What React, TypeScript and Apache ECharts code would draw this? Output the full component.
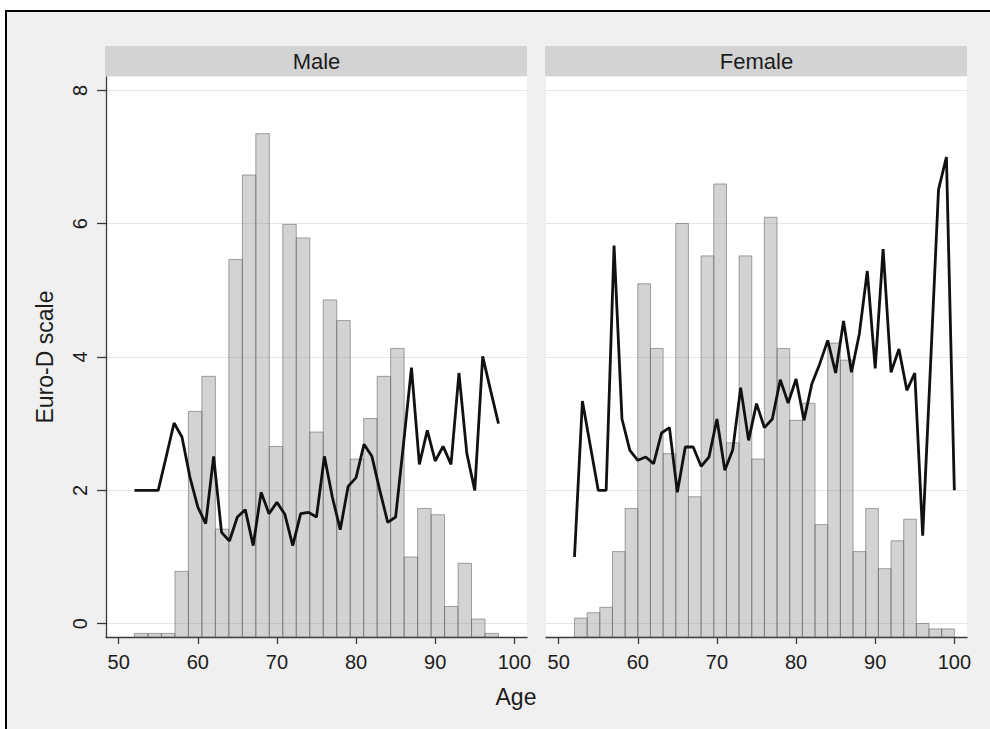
import React, { useEffect, useRef } from "react";
import * as echarts from "echarts";

// Mean Euro-D score by single year of age
const maleAges = [
  52, 53, 54, 55, 56, 57, 58, 59, 60, 61, 62, 63, 64, 65, 66, 67, 68, 69, 70, 71, 72, 73, 74, 75,
  76, 77, 78, 79, 80, 81, 82, 83, 84, 85, 86, 87, 88, 89, 90, 91, 92, 93, 94, 95, 96, 97, 98,
];
const maleEuroD = [
  2.0, 2.0, 2.0, 2.0, 2.5, 3.01, 2.8, 2.2, 1.75, 1.5, 2.51, 1.37, 1.24, 1.6, 1.71, 1.17, 1.97, 1.65,
  1.82, 1.64, 1.17, 1.65, 1.67, 1.6, 2.51, 1.9, 1.41, 2.06, 2.19, 2.69, 2.51, 2.0, 1.52, 1.6, 2.7,
  3.84, 2.39, 2.9, 2.44, 2.66, 2.39, 3.76, 2.55, 2.0, 4.01, 3.5, 3.0,
];
const femaleAges = [
  52, 53, 54, 55, 56, 57, 58, 59, 60, 61, 62, 63, 64, 65, 66, 67, 68, 69, 70, 71, 72, 73, 74, 75,
  76, 77, 78, 79, 80, 81, 82, 83, 84, 85, 86, 87, 88, 89, 90, 91, 92, 93, 94, 95, 96, 97, 98, 99, 100,
];
const femaleEuroD = [
  1.0, 3.34, 2.67, 2.0, 2.0, 5.67, 3.07, 2.6, 2.45, 2.5, 2.4, 2.86, 2.94, 1.97, 2.65, 2.65, 2.36,
  2.5, 3.07, 2.3, 2.61, 3.54, 2.75, 3.3, 2.94, 3.07, 3.66, 3.31, 3.67, 3.05, 3.6, 3.9, 4.25, 3.76,
  4.54, 3.77, 4.35, 5.29, 3.83, 5.62, 3.77, 4.12, 3.5, 3.76, 1.32, 3.9, 6.51, 7.0, 2.0,
];

// Age distribution (density) histograms
const maleBinRange = [52, 98];
const maleDensity = [
  0.0004, 0.0004, 0.0004, 0.0073, 0.0251, 0.029, 0.012, 0.042, 0.0514, 0.056, 0.0212, 0.0459,
  0.0444, 0.0228, 0.0375, 0.0352, 0.0198, 0.0243, 0.029, 0.0321, 0.0089, 0.0143, 0.0136, 0.0034,
  0.0082, 0.002, 0.0004,
];
const femaleBinRange = [52, 100];
const femaleDensity = [
  0.0021, 0.0027, 0.0033, 0.0095, 0.0143, 0.0393, 0.0321, 0.0204, 0.046, 0.0156, 0.0424, 0.0504,
  0.0216, 0.0424, 0.0198, 0.0467, 0.0321, 0.0241, 0.026, 0.0125, 0.0327, 0.0308, 0.0095, 0.0143,
  0.0076, 0.0107, 0.0131, 0.0015, 0.0009, 0.0009,
];

const ageTicks = [50, 60, 70, 80, 90, 100];
const euroTicks = [0, 2, 4, 6, 8];
const panelTitles = ["Male", "Female"];

const FONT = "'Liberation Sans', Arial, Helvetica, sans-serif";
const TEXT = "#1c1c1c";
const AXIS = "#3a3a3a";

function binRows(range: number[], dens: number[]) {
  const w = (range[1] - range[0]) / dens.length;
  return dens.map((d, i) => [range[0] + i * w, range[0] + (i + 1) * w, d]);
}

const histRender = (params: any, api: any) => {
  const top = api.coord([api.value(0), api.value(2)]);
  const base = api.coord([api.value(1), 0]);
  return {
    type: "rect",
    shape: { x: top[0], y: top[1], width: base[0] - top[0], height: base[1] - top[1] },
    style: { fill: "rgba(150,150,150,0.42)", stroke: "rgba(95,95,95,0.55)", lineWidth: 1 },
  };
};

export default function App() {
  const ref = useRef<HTMLDivElement>(null);

  useEffect(() => {
    if (!ref.current) return;
    const chart = echarts.init(ref.current, null, { renderer: "svg" });

    const panels = [
      { left: 106, top: 77, width: 421, height: 560 },
      { left: 546, top: 77, width: 421, height: 560 },
    ];

    const xAxes = panels.map((_, i) => ({
      type: "value",
      gridIndex: i,
      min: 48.4,
      max: 101.6,
      axisLine: { show: true, onZero: false, lineStyle: { color: AXIS, width: 1.3 } },
      axisTick: { show: true, length: 7, customValues: ageTicks, lineStyle: { color: AXIS, width: 1.3 } },
      axisLabel: { customValues: ageTicks, fontSize: 20, color: TEXT, margin: 15, fontFamily: FONT },
      splitLine: { show: false },
    }));

    const yAxes: any[] = panels.map((_, i) => ({
      type: "value",
      gridIndex: i,
      min: -0.2,
      max: 8.2,
      name: i === 0 ? "Euro-D scale" : "",
      nameLocation: "middle",
      nameGap: 50,
      nameTextStyle: { fontSize: 23, color: TEXT, fontFamily: FONT },
      axisLine: { show: i === 0, onZero: false, lineStyle: { color: AXIS, width: 1.3 } },
      axisTick: { show: i === 0, length: 9, customValues: euroTicks, lineStyle: { color: AXIS, width: 1.3 } },
      axisLabel: {
        show: i === 0,
        customValues: euroTicks,
        rotate: 90,
        fontSize: 20,
        color: TEXT,
        margin: 16,
        fontFamily: FONT,
      },
      splitLine: { show: true, lineStyle: { color: "#e6e6e6", width: 1.2 } },
    }));
    // hidden density axes for the histograms
    panels.forEach((_, i) => {
      yAxes.push({ type: "value", gridIndex: i, min: 0, max: 0.0623, show: false, splitLine: { show: false } });
    });

    const histograms = [binRows(maleBinRange, maleDensity), binRows(femaleBinRange, femaleDensity)];
    const lines = [
      maleAges.map((a, i) => [a, maleEuroD[i]]),
      femaleAges.map((a, i) => [a, femaleEuroD[i]]),
    ];

    const series: any[] = [];
    panels.forEach((_, i) => {
      series.push({
        type: "custom",
        xAxisIndex: i,
        yAxisIndex: 2 + i,
        data: histograms[i],
        encode: { x: [0, 1], y: 2 },
        renderItem: histRender,
        z: 2,
      });
      series.push({
        type: "line",
        xAxisIndex: i,
        yAxisIndex: i,
        data: lines[i],
        symbol: "none",
        lineStyle: { color: "#111", width: 2.8 },
        z: 3,
      });
    });

    const graphic: any[] = [];
    panels.forEach((p, i) => {
      graphic.push({
        type: "rect",
        shape: { x: p.left - 1, y: 46, width: p.width + 1, height: 30 },
        style: { fill: "#d3d3d3" },
      });
      graphic.push({
        type: "text",
        x: p.left + p.width / 2,
        y: 61,
        style: {
          text: panelTitles[i],
          fontSize: 22,
          fill: TEXT,
          fontFamily: FONT,
          align: "center",
          verticalAlign: "middle",
        },
      });
    });
    graphic.push({
      type: "text",
      x: 516,
      y: 697,
      style: { text: "Age", fontSize: 23, fill: TEXT, fontFamily: FONT, align: "center", verticalAlign: "middle" },
    });

    chart.setOption({
      animation: false,
      backgroundColor: "transparent",
      grid: panels.map((p) => ({ ...p, show: true, backgroundColor: "#ffffff", borderWidth: 0 })),
      xAxis: xAxes,
      yAxis: yAxes,
      series,
      graphic,
    });

    return () => chart.dispose();
  }, []);

  return (
    <div style={{ position: "fixed", left: 0, top: 0, width: 990, height: 729, background: "#fff", overflow: "hidden" }}>
      <div
        style={{
          position: "absolute",
          left: 5,
          top: 10,
          width: 1000,
          height: 800,
          border: "2px solid #000",
          background: "#f0f0f0",
        }}
      />
      <div ref={ref} style={{ position: "absolute", left: 0, top: 0, width: 990, height: 729 }} />
    </div>
  );
}
